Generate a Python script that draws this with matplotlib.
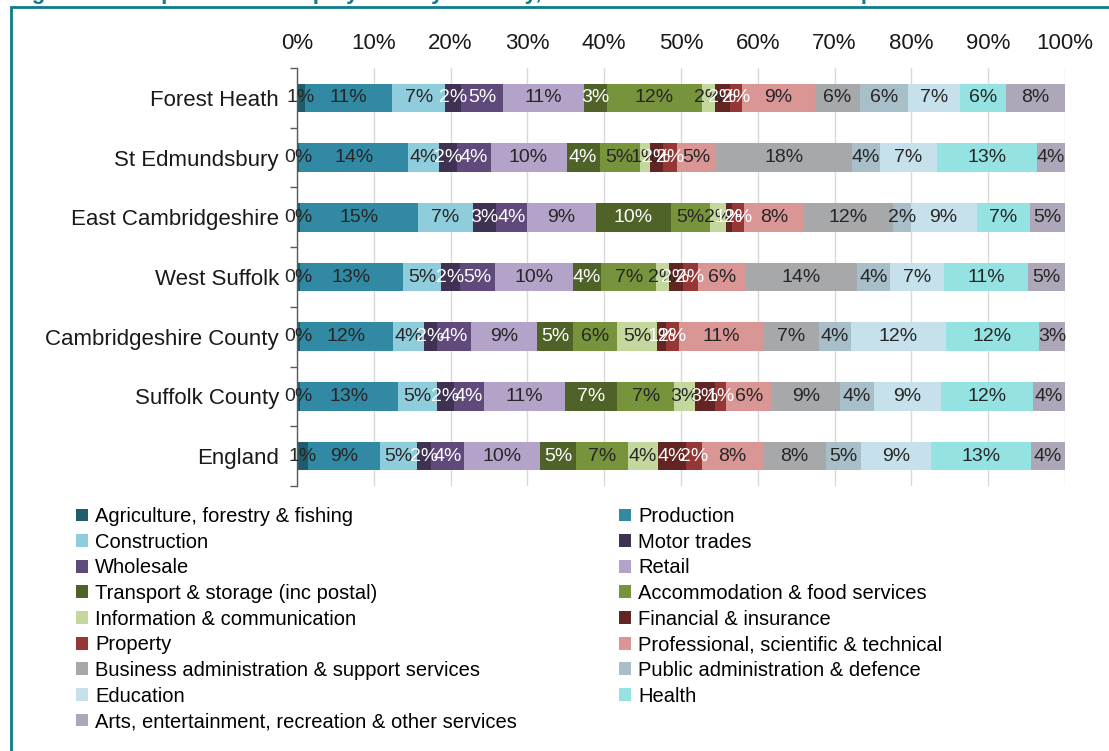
import matplotlib
matplotlib.use("Agg")
import matplotlib.pyplot as plt
from matplotlib.patches import Patch, Rectangle
import numpy as np

plt.rcParams['font.family'] = ['Liberation Sans', 'DejaVu Sans']

# ---- data: share of employment (%) by broad industrial group ----
areas = ["Forest Heath", "St Edmundsbury", "East Cambridgeshire", "West Suffolk",
         "Cambridgeshire County", "Suffolk County", "England"]

sectors = ["Agriculture, forestry & fishing", "Production", "Construction",
           "Motor trades", "Wholesale", "Retail", "Transport & storage (inc postal)",
           "Accommodation & food services", "Information & communication",
           "Financial & insurance", "Property", "Professional, scientific & technical",
           "Business administration & support services", "Public administration & defence",
           "Education", "Health", "Arts, entertainment, recreation & other services"]

agriculture    = [1.0, 0.3, 0.4, 0.4, 0.4, 0.4, 1.4]
production     = [11.4, 14.2, 15.4, 13.4, 12.1, 12.7, 9.4]
construction   = [6.9, 4.0, 7.1, 5.0, 4.0, 5.1, 4.8]
motor_trades   = [2.1, 2.3, 3.0, 2.4, 1.7, 2.2, 1.9]
wholesale      = [5.4, 4.4, 4.1, 4.6, 4.4, 3.9, 4.2]
retail         = [10.6, 9.9, 8.9, 10.1, 8.7, 10.6, 10.0]
transport      = [2.9, 4.3, 9.8, 3.7, 4.6, 6.8, 4.6]
accommodation  = [12.4, 5.2, 5.1, 7.2, 5.8, 7.4, 6.8]
information    = [1.7, 1.3, 2.1, 1.6, 5.2, 2.7, 3.9]
financial      = [2.0, 1.7, 0.7, 1.8, 1.2, 2.6, 3.7]
property_      = [1.6, 1.9, 1.6, 2.0, 1.6, 1.4, 2.0]
professional   = [9.4, 5.1, 7.8, 6.3, 11.0, 6.1, 8.0]
business_admin = [5.9, 17.7, 11.6, 14.4, 7.3, 8.8, 8.2]
public_admin   = [6.3, 3.6, 2.3, 4.3, 4.1, 4.4, 4.6]
education      = [6.7, 7.4, 8.6, 7.0, 12.4, 8.7, 9.0]
health         = [6.0, 13.1, 6.9, 11.0, 12.1, 12.0, 13.1]
arts           = [7.7, 3.6, 4.6, 4.8, 3.4, 4.2, 4.4]

x_ticks = [0, 10, 20, 30, 40, 50, 60, 70, 80, 90, 100]

series = [agriculture, production, construction, motor_trades, wholesale, retail,
          transport, accommodation, information, financial, property_, professional,
          business_admin, public_admin, education, health, arts]

colors = ["#1f5b6a", "#3189a3", "#8fcddd", "#3f3152", "#604a7c", "#b4a3c8",
          "#4f6228", "#77933c", "#c4d79c", "#632523", "#953735", "#d99694",
          "#a6a8aa", "#a8bec9", "#c6e1eb", "#95e2e2", "#aea7b9"]
dark = "#262626"
label_colors = [dark, dark, dark, "white", "white", dark, "white", dark, dark,
                "white", "white", dark, dark, dark, dark, dark, dark]

teal = "#0e7c8a"

# ---- figure ----
W, H = 1109, 751
fig = plt.figure(figsize=(W / 100, H / 100), dpi=100)
fig.patch.set_facecolor("white")

ax_left, ax_right = 297, 1065
ax_top, ax_bottom = 68, 486
ax = fig.add_axes([ax_left / W, 1 - ax_bottom / H, (ax_right - ax_left) / W,
                   (ax_bottom - ax_top) / H])

values = np.array(series, dtype=float)          # sectors x areas
totals = values.sum(axis=0)
shares = values / totals * 100
y = np.arange(len(areas))
left = np.zeros(len(areas))
bar_h = 0.48

centres = []
for i, (row, col) in enumerate(zip(shares, colors)):
    ax.barh(y, row, left=left, height=bar_h, color=col, edgecolor="none",
            zorder=2, label=sectors[i])
    centres.append(left + row / 2)
    left = left + row

for i in range(len(sectors)):
    for j in range(len(areas)):
        ax.text(centres[i][j], y[j], f"{values[i][j]:.0f}%", ha="center",
                va="center", fontsize=14, color=label_colors[i], zorder=3)

ax.set_xlim(0, 100)
ax.set_ylim(len(areas) - 0.5, -0.5)
ax.set_xticks(x_ticks)
ax.set_xticklabels([f"{t}%" for t in x_ticks], fontsize=16, color="#1a1a1a")
ax.xaxis.tick_top()
ax.tick_params(axis="x", length=0, pad=10)
ax.set_yticks(y)
ax.set_yticklabels(areas, fontsize=16, color="#1a1a1a")
ax.tick_params(axis="y", which="major", length=0, pad=13)
ax.set_yticks(np.arange(len(areas) + 1) - 0.5, minor=True)
ax.tick_params(axis="y", which="minor", length=5, width=1, color="#595959",
               direction="out")
ax.grid(axis="x", color="#d9d9d9", linewidth=1, zorder=0)
ax.set_axisbelow(True)
for s in ["top", "right", "bottom"]:
    ax.spines[s].set_visible(False)
ax.spines["left"].set_color("#595959")
ax.spines["left"].set_linewidth(1)

# ---- legend: two columns, filled row by row ----
handles = [Patch(facecolor=c, edgecolor="none") for c in colors]
common = dict(loc="upper left", frameon=False, fontsize=14.5, borderpad=0,
              borderaxespad=0, handlelength=0.6, handleheight=0.6,
              handletextpad=0.35, labelspacing=0.33)
fig.legend(handles[0::2], sectors[0::2], bbox_to_anchor=(76 / W, 1 - 507 / H),
           **common)
fig.legend(handles[1::2], sectors[1::2], bbox_to_anchor=(619 / W, 1 - 507 / H),
           **common)

# ---- frame and title ----
fig.add_artist(Rectangle((11 / W, -0.05), 1.2, 1 - 7.5 / H + 0.05,
                         transform=fig.transFigure, fill=False,
                         edgecolor=teal, linewidth=2, zorder=5))
fig.text(12 / W, 1 + 1.5 / H,
         "Figure 4: Composition of employment by industry, 2014 \u2013 local and national comparison",
         fontsize=16, fontweight="bold", color=teal, ha="left", va="baseline")

fig.savefig("out.png", dpi=100, facecolor="white")
